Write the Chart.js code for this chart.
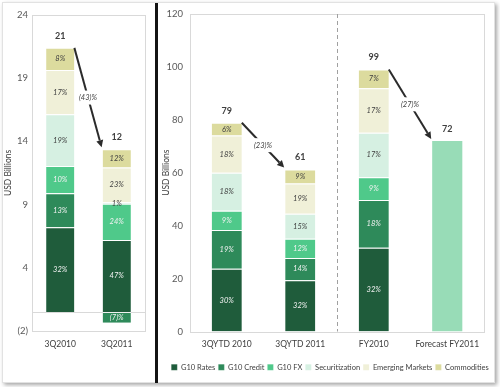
<!DOCTYPE html>
<html>
<head>
<meta charset="utf-8">
<script src="https://cdn.jsdelivr.net/npm/chart.js@4"></script>
<style>
  body { margin: 0; background: #fff; }
  #panel { position: absolute; left: 2px; top: 2px; width: 491px; height: 379px; border: 1px solid #e2e2e2; box-shadow: 2px 2px 4px rgba(0,0,0,0.35); background: #fff; }
  #divider { position: absolute; left: 155px; top: 3px; width: 3px; height: 380px; background: #141414; }
  #leftChart { position: absolute; left: 0; top: 0; }
  #rightChart { position: absolute; left: 160px; top: 0; }
</style>
</head>
<body>
<div id="panel"></div>
<canvas id="leftChart" width="155" height="387"></canvas>
<div id="divider"></div>
<canvas id="rightChart" width="340" height="387"></canvas>
<script>
// legend names and colours, same order in both charts
const seriesNames = ['G10 Rates', 'G10 Credit', 'G10 FX', 'Securitization', 'Emerging Markets', 'Commodities'];
const seriesColors = ['#1f5c3b', '#2e8a5a', '#4fc98a', '#d6f0e2', '#f0f0d8', '#dcdb9e'];
const seriesText = ['#f2f2f2', '#f2f2f2', '#f2f2f2', '#404040', '#404040', '#404040'];

// quarter chart, USD bn
const qCategories = ['3Q2010', '3Q2011'];
const qRates = [6.7, 5.7];
const qCredit = [2.7, -0.85];
const qFX = [2.15, 2.86];
const qSecuritization = [4.1, 0.12];
const qEmerging = [3.5, 2.76];
const qCommodities = [1.75, 1.44];
const qPct = [['32%', '47%'], ['13%', '(7)%'], ['10%', '24%'], ['19%', '1%'], ['17%', '23%'], ['8%', '12%']];
const qTotals = ['21', '12'];
const qChanges = ['(43)%'];
const qTickValues = [-1.5, 3.5, 8.5, 13.5, 18.5, 23.5];
const qTickLabels = ['(2)', '4', '9', '14', '19', '24'];

// year-to-date / full year chart, USD bn
const yCategories = ['3QYTD 2010', '3QYTD 2011', 'FY2010', 'Forecast FY2011'];
const yRates = [23.7, 19.4, 31.7, null];
const yCredit = [14.7, 8.4, 18.0, null];
const yFX = [7.2, 7.3, 8.6, null];
const ySecuritization = [14.4, 9.4, 16.8, null];
const yEmerging = [14.1, 11.4, 16.8, null];
const yCommodities = [4.8, 5.3, 7.1, null];
const yForecast = [null, null, null, 72];
const yPct = [['30%', '32%', '32%'], ['19%', '14%', '18%'], ['9%', '12%', '9%'], ['18%', '15%', '17%'], ['18%', '19%', '17%'], ['6%', '9%', '7%']];
const yTotals = ['79', '61', '99', '72'];
const yChanges = ['(23)%', null, '(27)%'];   // arrow from category i to i+1
const yTicks = [0, 20, 40, 60, 80, 100, 120];

const FONT = 'Lato';

function makeSets(values, pct) {
    return values.map((v, i) => ({
        label: seriesNames[i],
        data: v,
        backgroundColor: seriesColors[i],
        borderColor: 'rgba(255,255,255,0.6)',
        borderWidth: { top: 1, bottom: 0, left: 0, right: 0 },
        borderSkipped: false,
        pct: pct[i],
        textColor: seriesText[i],
        stack: 's'
    }));
}

function stackTop(chart, j) {
    let sum = 0;
    chart.data.datasets.forEach(ds => {
        const v = ds.data[j];
        if (v != null && v > 0) sum += v;
    });
    return chart.scales.y.getPixelForValue(sum);
}

function drawArrow(ctx, x1, y1, x2, y2, label) {
    const ang = Math.atan2(y2 - y1, x2 - x1);
    const head = 7;
    ctx.strokeStyle = '#2b2b2b';
    ctx.fillStyle = '#2b2b2b';
    ctx.lineWidth = 2;
    ctx.beginPath();
    ctx.moveTo(x1, y1);
    ctx.lineTo(x2 - head * Math.cos(ang), y2 - head * Math.sin(ang));
    ctx.stroke();
    ctx.beginPath();
    ctx.moveTo(x2, y2);
    ctx.lineTo(x2 - head * Math.cos(ang) + 3.5 * Math.sin(ang), y2 - head * Math.sin(ang) - 3.5 * Math.cos(ang));
    ctx.lineTo(x2 - head * Math.cos(ang) - 3.5 * Math.sin(ang), y2 - head * Math.sin(ang) + 3.5 * Math.cos(ang));
    ctx.closePath();
    ctx.fill();
    const mx = (x1 + x2) / 2, my = (y1 + y2) / 2;
    ctx.font = 'italic 7.5px ' + FONT;
    const w = ctx.measureText(label).width;
    ctx.fillStyle = '#fff';
    ctx.fillRect(mx - w / 2 - 2, my - 7, w + 4, 14);
    ctx.fillStyle = '#404040';
    ctx.textAlign = 'center';
    ctx.textBaseline = 'middle';
    ctx.fillText(label, mx, my);
}

const decorations = {
    id: 'decorations',
    beforeDatasetsDraw(chart, args, opts) {
        const ctx = chart.ctx, a = chart.chartArea;
        ctx.save();
        ctx.strokeStyle = '#d9d9d9';
        ctx.lineWidth = 1;
        ctx.strokeRect(Math.round(a.left) + 0.5, Math.round(a.top) + 0.5, Math.round(a.right - a.left), Math.round(a.bottom - a.top));
        if (opts.zeroLine) {
            const y0 = Math.round(chart.scales.y.getPixelForValue(0)) + 0.5;
            ctx.beginPath();
            ctx.moveTo(a.left, y0);
            ctx.lineTo(a.right, y0);
            ctx.stroke();
        }
        if (opts.divideAt != null) {
            const x = Math.round(chart.scales.x.getPixelForValue(opts.divideAt)) + 0.5;
            ctx.strokeStyle = '#a0a0a0';
            ctx.setLineDash([4, 3]);
            ctx.beginPath();
            ctx.moveTo(x, a.top);
            ctx.lineTo(x, a.bottom);
            ctx.stroke();
        }
        ctx.restore();
    },
    afterDatasetsDraw(chart, args, opts) {
        const ctx = chart.ctx;
        ctx.save();
        ctx.textAlign = 'center';
        ctx.textBaseline = 'middle';
        ctx.font = 'italic 7.5px ' + FONT;
        chart.data.datasets.forEach((ds, i) => {
            if (!ds.pct) return;
            chart.getDatasetMeta(i).data.forEach((bar, j) => {
                if (ds.data[j] == null || !ds.pct[j]) return;
                ctx.fillStyle = ds.textColor;
                ctx.fillText(ds.pct[j], bar.x, (bar.y + bar.base) / 2);
            });
        });
        const bars = chart.getDatasetMeta(0).data;
        const xs = chart.data.labels.map((l, j) => chart.scales.x.getPixelForValue(j));
        const half = bars[0].width / 2;
        ctx.font = 'bold 9px ' + FONT;
        ctx.fillStyle = '#404040';
        opts.totals.forEach((t, j) => {
            ctx.fillText(t, xs[j], stackTop(chart, j) - 12);
        });
        opts.changes.forEach((c, j) => {
            if (!c) return;
            drawArrow(ctx, xs[j] + half, stackTop(chart, j), xs[j + 1] - half - 1, stackTop(chart, j + 1) - 2, c);
        });
        ctx.restore();
    }
};

const tickFont = { family: FONT, size: 9.5 };
const catFont = { family: FONT, size: 8.5 };
const titleFont = { family: FONT, size: 8.5 };

new Chart(document.getElementById('leftChart').getContext('2d'), {
    type: 'bar',
    data: {
        labels: qCategories,
        datasets: makeSets([qRates, qCredit, qFX, qSecuritization, qEmerging, qCommodities], qPct)
    },
    options: {
        responsive: false,
        animation: false,
        barPercentage: 0.5,
        categoryPercentage: 1,
        layout: { padding: { left: 0, right: 10, top: 15, bottom: 36 } },
        plugins: {
            legend: { display: false },
            tooltip: { enabled: false },
            decorations: { totals: qTotals, changes: qChanges, zeroLine: true }
        },
        scales: {
            x: {
                stacked: true,
                grid: { display: false, drawTicks: false },
                border: { display: false },
                ticks: { color: '#404040', font: catFont, padding: 8 },
                afterFit: s => { s.height = 20; }
            },
            y: {
                stacked: true,
                min: -1.5,
                max: 23.5,
                grid: { display: false, drawTicks: false },
                border: { display: false },
                afterBuildTicks: s => { s.ticks = qTickValues.map(v => ({ value: v })); },
                ticks: { color: '#595959', font: tickFont, padding: 4, callback: (v, i) => qTickLabels[i] },
                title: { display: true, text: 'USD Billions', color: '#404040', font: titleFont, padding: { top: 3, bottom: 0 } },
                afterFit: s => { s.width = 32; }
            }
        }
    },
    plugins: [decorations]
});

const ySets = makeSets([yRates, yCredit, yFX, ySecuritization, yEmerging, yCommodities], yPct);
ySets.push({
    label: 'Forecast FY2011',
    data: yForecast,
    backgroundColor: '#98dcb7',
    stack: 's'
});

new Chart(document.getElementById('rightChart').getContext('2d'), {
    type: 'bar',
    data: { labels: yCategories, datasets: ySets },
    options: {
        responsive: false,
        animation: false,
        barPercentage: 0.41,
        categoryPercentage: 1,
        layout: { padding: { left: 0, right: 0, top: 14, bottom: 6 } },
        plugins: {
            legend: {
                position: 'bottom',
                labels: {
                    boxWidth: 6,
                    boxHeight: 6,
                    padding: 3,
                    color: '#404040',
                    font: { family: FONT, size: 7.5 },
                    filter: item => item.text !== 'Forecast FY2011'
                }
            },
            tooltip: { enabled: false },
            decorations: { totals: yTotals, changes: yChanges, divideAt: 1.5 }
        },
        scales: {
            x: {
                stacked: true,
                grid: { display: false, drawTicks: false },
                border: { display: false },
                ticks: { color: '#404040', font: catFont, padding: 8 },
                afterFit: s => { s.height = 29; }
            },
            y: {
                stacked: true,
                min: 0,
                max: 120,
                grid: { display: false, drawTicks: false },
                border: { display: false },
                afterBuildTicks: s => { s.ticks = yTicks.map(v => ({ value: v })); },
                ticks: { color: '#595959', font: tickFont, padding: 7 },
                title: { display: true, text: 'USD Billions', color: '#404040', font: titleFont, padding: { top: 1, bottom: 0 } },
                afterFit: s => { s.width = 30; }
            },
            // empty right-hand axis only keeps a margin beside the plot
            yRight: {
                position: 'right',
                grid: { display: false, drawTicks: false },
                border: { display: false },
                ticks: { display: false },
                afterFit: s => { s.width = 16; }
            }
        }
    },
    plugins: [decorations]
});
</script>
</body>
</html>
